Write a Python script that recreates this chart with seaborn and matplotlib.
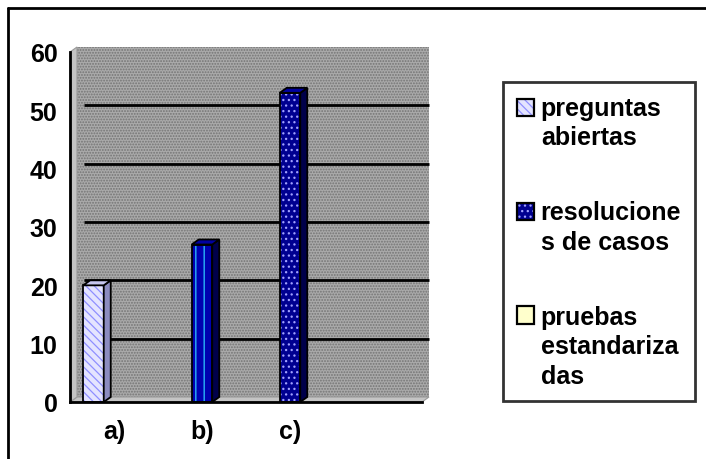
import numpy as np
import pandas as pd
import matplotlib
matplotlib.use("Agg")
import matplotlib.pyplot as plt
import seaborn as sns
from matplotlib.patches import Rectangle, Polygon, Patch
from matplotlib.legend_handler import HandlerPatch
from matplotlib.lines import Line2D
from matplotlib.transforms import ScaledTranslation

categorias = ["a)", "b)", "c)", ""]
series = ["preguntas\nabiertas", "resolucione\ns de casos", "pruebas\nestandariza\ndas"]
preguntas = [20, 0, 0, 0]
resoluciones = [0, 27, 53, 0]
pruebas = [0, 0, 0, 0]
yticks = [0, 10, 20, 30, 40, 50, 60]

# colours / patterns (face, hatch, hatch colour)
estilos = {
    series[0]: ("#e4e4ff", "\\\\\\\\", "#8f8fff"),
    series[1]: ("#000090", "...", "#a0a0ff"),
    series[2]: ("#ffffcc", None, "#ffffcc"),
}

df = pd.DataFrame({
    "categoria": categorias * 3,
    "serie": np.repeat(series, len(categorias)),
    "valor": preguntas + resoluciones + pruebas,
})

sns.set_style("white")
plt.rcParams["font.family"] = ["Liberation Sans", "DejaVu Sans"]
plt.rcParams["font.weight"] = "bold"
plt.rcParams["text.color"] = "black"
plt.rcParams["hatch.linewidth"] = 0.9

FS = 18
W, H = 706, 460
fig = plt.figure(figsize=(W / 100, H / 100), dpi=100)
ax = fig.add_axes([70 / W, 1 - 403 / H, 352 / W, 350 / H])
ax.set_facecolor("none")

sns.barplot(data=df, x="categoria", y="valor", hue="serie", order=categorias,
            hue_order=series, palette=[estilos[s][0] for s in series],
            width=0.7, saturation=1, errorbar=None, legend=False, ax=ax, zorder=3)

ax.set_xlim(-0.5, len(categorias) - 0.5)
ax.set_ylim(0, 60)
ax.set_yticks(yticks)
ax.set_xlabel("")
ax.set_ylabel("")

# 3D depth in pixels
dpx, dpy = 7, 5
ppx = ax.transData.transform((1, 0))[0] - ax.transData.transform((0, 0))[0]
ppy = ax.transData.transform((0, 1))[1] - ax.transData.transform((0, 0))[1]
ddx, ddy = dpx / ppx, dpy / ppy
off = ScaledTranslation(dpx / 100, dpy / 100, fig.dpi_scale_trans)

# back wall, floor, side wall
ax.add_patch(Rectangle((0, 0), 1, 1, transform=ax.transAxes + off,
                       facecolor="#aaaaaa", edgecolor="#747474", hatch="......",
                       lw=0, zorder=0, clip_on=False))
bb = ax.get_window_extent()
fx, fy = dpx / bb.width, dpy / bb.height
ax.add_patch(Polygon([(0, 0), (1, 0), (1 + fx, fy), (fx, fy)], closed=True,
                     transform=ax.transAxes, facecolor="#c4c4c4", edgecolor="#9a9a9a",
                     lw=0.8, zorder=0.5, clip_on=False))
ax.add_patch(Polygon([(0, 0), (fx, fy), (fx, 1 + fy), (0, 1)], closed=True,
                     transform=ax.transAxes, facecolor="#c4c4c4", edgecolor="#9a9a9a",
                     lw=0.8, zorder=0.5, clip_on=False))
ax.hlines(yticks[1:-1], fx, 1, transform=ax.get_yaxis_transform() + off,
          colors="black", lw=2, zorder=1, clip_on=False)

# bar styling + 3D faces
for serie, cont in zip(series, ax.containers):
    face, hatch, hcol = estilos[serie]
    for cat, p in zip(categorias, cont.patches):
        h = p.get_height()
        if h <= 0:
            p.set_visible(False)
            continue
        if serie == series[1] and cat == "b)":
            p.set_facecolor("#0000b0")
            p.set_hatch("||")
            p.set_edgecolor("#2fc8ff")
        else:
            p.set_hatch(hatch)
            p.set_edgecolor(hcol)
        p.set_linewidth(0)
        x0, w = p.get_x(), p.get_width()
        ax.add_patch(Rectangle((x0, 0), w, h, fill=False, ec="black", lw=1.3, zorder=4))
        dark = "#8c8cc0" if serie == series[0] else "#00004a"
        light = "#c8c8f0" if serie == series[0] else "#0000a0"
        ax.add_patch(Polygon([(x0 + w, 0), (x0 + w + ddx, ddy), (x0 + w + ddx, h + ddy), (x0 + w, h)],
                             closed=True, fc=dark, ec="black", lw=1.3, zorder=4, clip_on=False))
        ax.add_patch(Polygon([(x0, h), (x0 + w, h), (x0 + w + ddx, h + ddy), (x0 + ddx, h + ddy)],
                             closed=True, fc=light, ec="black", lw=1.3, zorder=4, clip_on=False))

for s in ["top", "right"]:
    ax.spines[s].set_visible(False)
for s in ["left", "bottom"]:
    ax.spines[s].set_linewidth(2)
    ax.spines[s].set_color("black")
    ax.spines[s].set_zorder(5)

ax.tick_params(axis="y", direction="out", length=6, width=1.6, pad=3, labelsize=FS, colors="black")
ax.tick_params(axis="x", which="major", length=0, pad=12, labelsize=FS, colors="black")
ax.set_xticks(np.arange(-0.5, len(categorias)), minor=True)
ax.tick_params(axis="x", which="minor", direction="out", length=6, width=1.6)
for t in ax.get_xticklabels() + ax.get_yticklabels():
    t.set_fontweight("bold")


class TopSquare(HandlerPatch):
    def __init__(self, shift):
        super().__init__()
        self.shift = shift

    def create_artists(self, legend, orig_handle, xdescent, ydescent, width, height, fontsize, trans):
        y0 = -ydescent + self.shift * fontsize
        fill = Rectangle((-xdescent, y0), width, height, fc=orig_handle.get_facecolor(),
                         ec=orig_handle.get_edgecolor(), hatch=orig_handle.get_hatch(), lw=0,
                         transform=trans)
        edge = Rectangle((-xdescent, y0), width, height, fill=False, ec="black", lw=1.6,
                         transform=trans)
        return [fill, edge]


lsp = 1.28
handles = []
hmap = {}
for serie in series:
    face, hatch, hcol = estilos[serie]
    hnd = Patch(facecolor=face, edgecolor=hcol, hatch=hatch, label=serie)
    handles.append(hnd)
    n = serie.count("\n")
    hmap[hnd] = TopSquare(0.5 * n * lsp)

leg = ax.legend(handles=handles, handler_map=hmap, loc="upper left",
                bbox_to_anchor=(503 / W, 1 - 83 / H), bbox_transform=fig.transFigure,
                borderaxespad=0, frameon=True, fancybox=False, borderpad=0.55,
                labelspacing=2.05, handlelength=0.68, handleheight=0.68, handletextpad=0.28,
                prop={"weight": "bold", "size": FS})
leg.get_frame().set_linewidth(2)
leg.get_frame().set_edgecolor("black")
for t in leg.get_texts():
    t.set_linespacing(lsp)
    t.set_color("black")

# outer frame
fig.add_artist(Line2D([8 / W, 1.01], [1 - 9 / H, 1 - 9 / H], color="black", lw=2))
fig.add_artist(Line2D([8 / W, 8 / W], [1 - 9 / H, -0.01], color="black", lw=2))

fig.savefig("out.png", dpi=100)
